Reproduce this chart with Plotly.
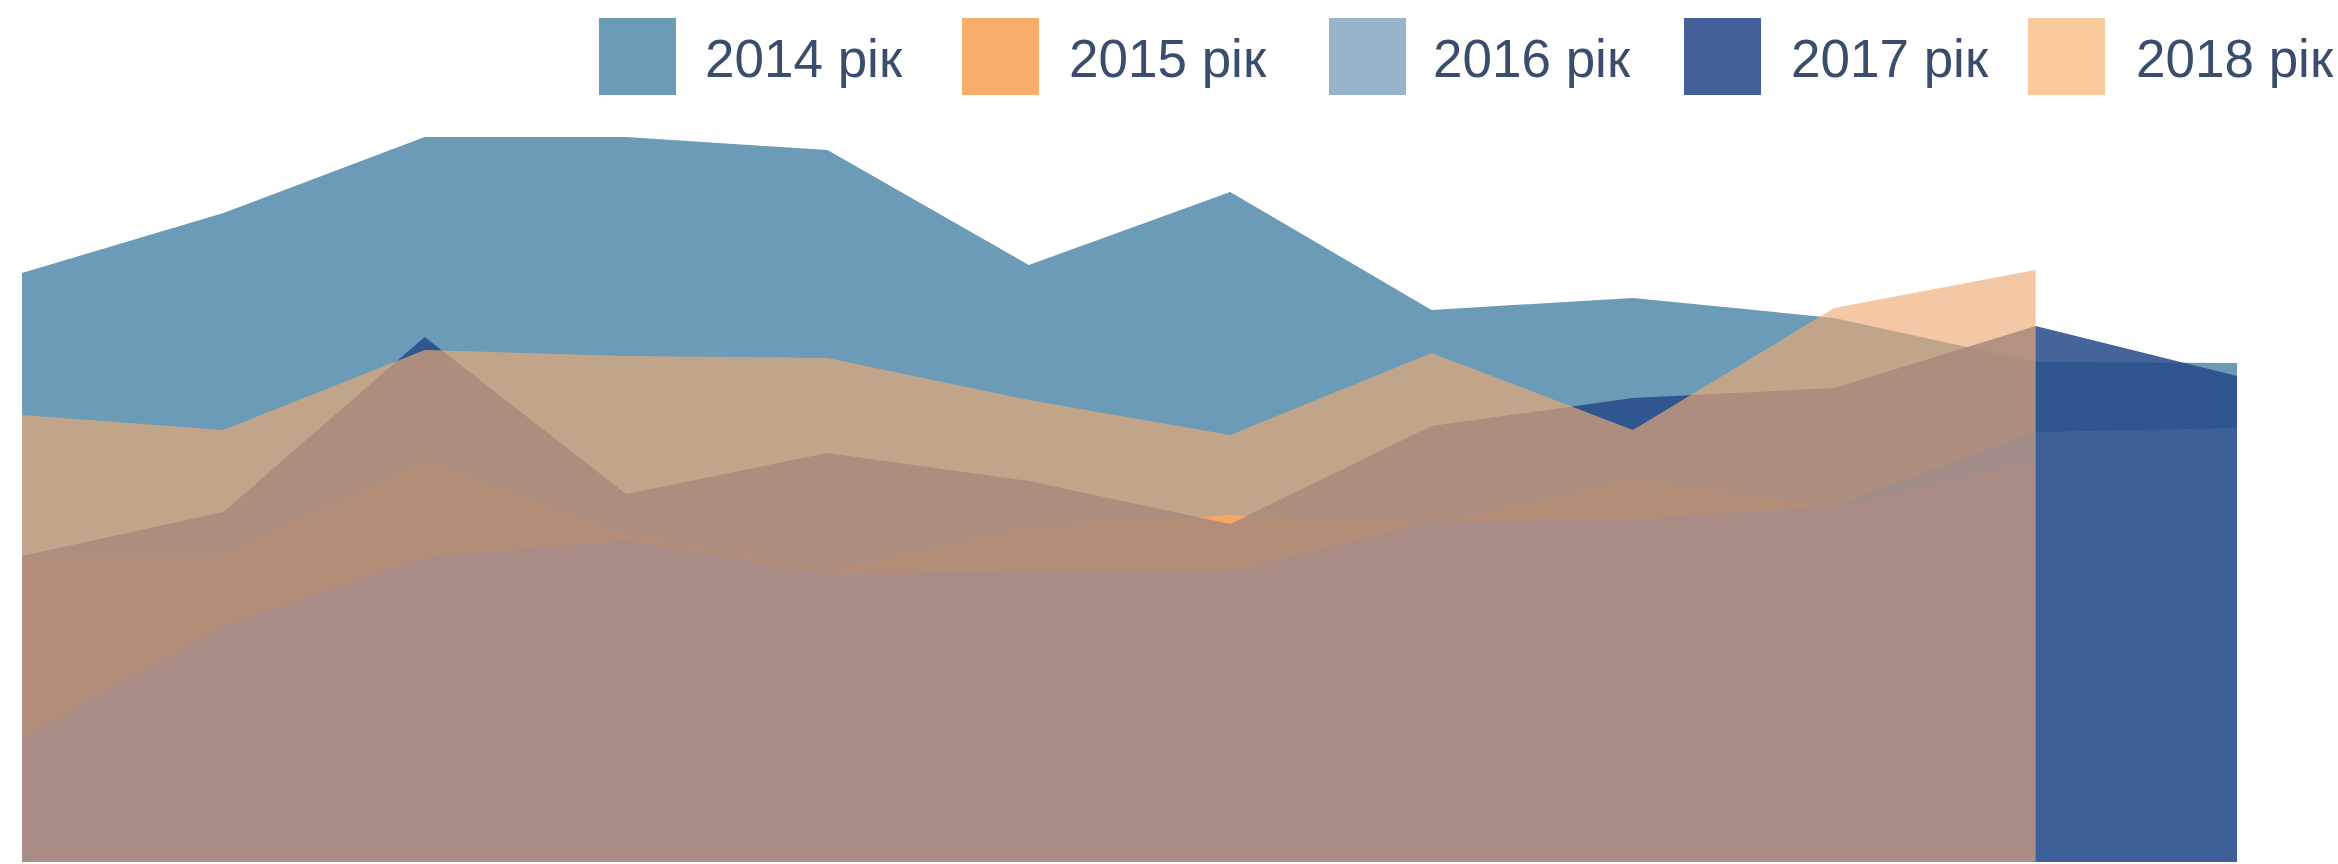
import plotly.graph_objects as go

months = ['Січень', 'Лютий', 'Березень', 'Квітень', 'Травень', 'Червень',
          'Липень', 'Серпень', 'Вересень', 'Жовтень', 'Листопад', 'Грудень']
series_names = ['2014 рік', '2015 рік', '2016 рік', '2017 рік', '2018 рік']

v2014 = [58.9, 64.9, 72.5, 72.5, 71.2, 59.7, 67.0, 55.2, 56.4, 54.4, 50.0, 49.9]
v2015 = [30.5, 30.5, 40.1, 32.7, 29.1, 33.4, 34.7, 33.7, 38.2, 35.4, 40.2]
v2016 = [12.5, 23.7, 30.5, 32.2, 28.8, 29.1, 29.1, 34.0, 34.3, 35.6, 43.0, 43.4]
v2017 = [30.6, 35.0, 52.5, 36.8, 40.9, 38.1, 33.8, 43.6, 46.4, 47.4, 53.6, 48.6]
v2018 = [44.7, 43.2, 51.2, 50.6, 50.4, 46.2, 42.7, 50.9, 43.2, 55.4, 59.2]

values = [v2014, v2015, v2016, v2017, v2018]

# translucent area fills (drawing order below reproduces the blended look)
fill_colors = {
    '2014 рік': 'rgba(107,155,182,1.0)',
    '2015 рік': 'rgba(255,157,70,1.0)',
    '2016 рік': 'rgba(127,139,191,0.20)',
    '2017 рік': 'rgba(36,74,136,0.85)',
    '2018 рік': 'rgba(240,170,116,0.65)',
}
swatch_colors = ['#6a9ab5', '#f8ad6a', '#98b4cc', '#44609a', '#f9c99b']
draw_order = ['2014 рік', '2015 рік', '2017 рік', '2018 рік', '2016 рік']

fig = go.Figure()
for name in draw_order:
    vals = values[series_names.index(name)]
    fig.add_trace(go.Scatter(
        x=months[:len(vals)], y=vals, mode='lines', fill='tozeroy',
        line=dict(width=0), fillcolor=fill_colors[name],
        name=name, showlegend=False, hoverinfo='x+y+name'))

# custom legend (large square swatches + labels) placed in pixel terms
W, H = 2338, 864
ml, mr, mt, mb = 22, 101, 100, 2
pw, ph = W - ml - mr, H - mt - mb


def px_x(x):
    return (x - ml) / pw


def px_y(y):
    return (H - mb - y) / ph


sw_left = [599, 962, 1329, 1684, 2028]
txt_left = [703, 1067, 1431, 1789, 2134]
shapes = []
annotations = []
for i, name in enumerate(series_names):
    shapes.append(dict(type='rect', xref='paper', yref='paper',
                       x0=px_x(sw_left[i]), x1=px_x(sw_left[i] + 77),
                       y0=px_y(95), y1=px_y(18),
                       fillcolor=swatch_colors[i], line=dict(width=0), layer='above'))
    annotations.append(dict(text=name, xref='paper', yref='paper',
                            x=px_x(txt_left[i]), y=px_y(58),
                            xanchor='left', yanchor='middle', showarrow=False,
                            font=dict(family='Liberation Sans, Arial, sans-serif',
                                      size=53, color='#3a4d6d')))

fig.update_layout(width=W, height=H, margin=dict(l=ml, r=mr, t=mt, b=mb),
                  paper_bgcolor='white', plot_bgcolor='white', showlegend=False,
                  shapes=shapes, annotations=annotations,
                  xaxis=dict(visible=False, range=[0, 11]),
                  yaxis=dict(visible=False, range=[0, 76.2]))
fig.write_html("out.html", config={'displayModeBar': False},
               post_script="document.body.style.margin='0';")
